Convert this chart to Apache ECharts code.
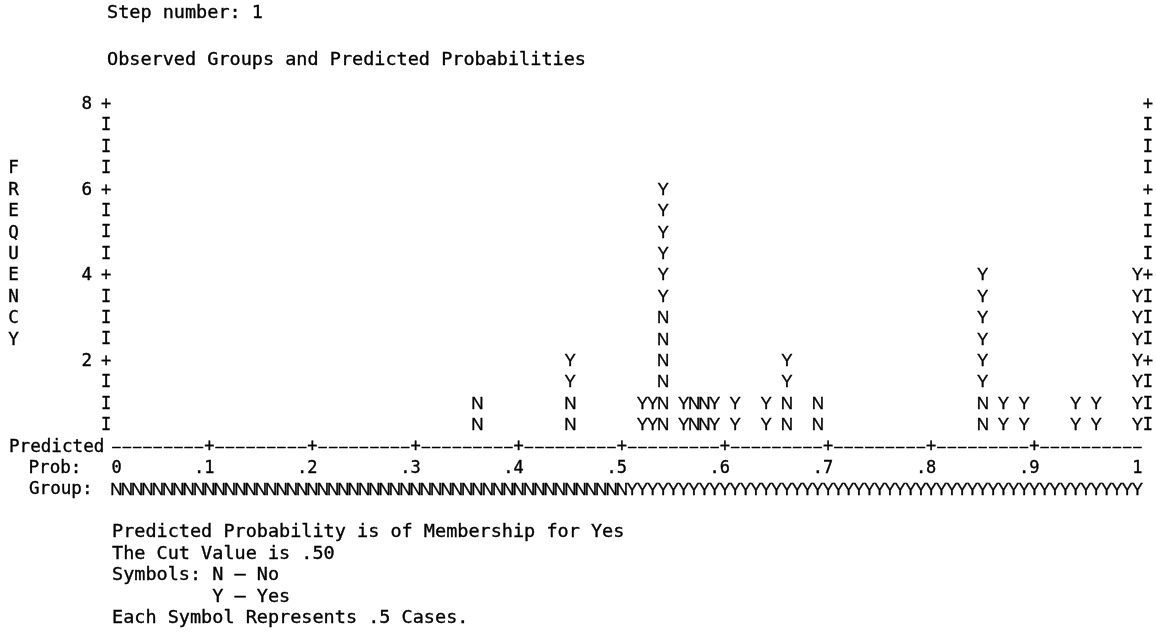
<!DOCTYPE html>
<html><head><meta charset="utf-8">
<script src="https://cdn.jsdelivr.net/npm/echarts@6/dist/echarts.min.js"></script>
<style>html,body{margin:0;padding:0;background:#fff}#c{width:1156px;height:639px}</style>
</head><body><div id="c"></div>
<script>
// Predicted probability bins (upper bound of each 0.01-wide column) that hold cases
const probBins = [0.36,0.45,0.52,0.53,0.54,0.56,0.57,0.58,0.59,0.61,0.64,0.66,0.69,0.85,0.87,0.89,0.94,0.96,1.00];
// Observed cases per bin (each symbol = .5 case)
const casesNo  = [1,1,0,0,3,0,1,1,0,0,0,1,1,1,0,0,0,0,0];
const casesYes = [0,1,1,1,3,1,0,0,1,1,1,1,0,3,1,1,1,1,4];
const probTicks = [0.01,0.1,0.2,0.3,0.4,0.5,0.6,0.7,0.8,0.9,1.0];
const probTickLabels = ['0','.1','.2','.3','.4','.5','.6','.7','.8','.9','1'];
const freqTicks = [2,4,6,8];
const cutValue = 0.5;
const casesPerSymbol = 0.5;

const MONO = '"DejaVu Sans Mono", monospace';
const SANS = '"Liberation Sans", Arial, sans-serif';
const FS = 17;      // chart rows
const FS_T = 18.5;  // titles / legend text
const SW = 0.35;    // slight stroke to darken glyphs

const nPts = [], yPts = [];
probBins.forEach((p, i) => {
  let row = 0;
  for (let j = 0; j < casesNo[i] / casesPerSymbol; j++) { row++; nPts.push([p, row * casesPerSymbol]); }
  for (let j = 0; j < casesYes[i] / casesPerSymbol; j++) { row++; yPts.push([p, row * casesPerSymbol]); }
});

// frame / axis decoration drawn in axis coordinates
const decor = [];
for (let r = 1; r <= 16; r++) {
  const f = r * casesPerSymbol;
  const ch = (f % 2 === 0) ? '+' : 'I';
  decor.push({x: 0, y: f, ch, font: MONO, fs: FS});
  decor.push({x: 1.01, y: f, ch, font: MONO, fs: FS});
}
for (let k = 1; k <= 100; k++) {
  const plus = (k % 10 === 0 && k < 100);
  decor.push({x: k / 100, y: 0, ch: plus ? '+' : '\u2013', font: plus ? MONO : SANS, fs: plus ? FS : 15});
  decor.push({x: k / 100, y: -2 * casesPerSymbol, ch: (k / 100 <= cutValue) ? 'N' : 'Y', font: SANS, fs: FS});
}

const textItem = (ch, font, fs) => (params, api) => {
  const pt = api.coord([api.value(0), api.value(1)]);
  return {type: 'text', x: pt[0], y: pt[1],
    style: {text: ch, fontFamily: font, fontSize: fs, fill: '#000', stroke: '#000', lineWidth: SW,
      align: 'center', verticalAlign: 'middle'}};
};

const chart = echarts.init(document.getElementById('c'), null, {renderer: 'canvas'});
const TOP = 104.5, BOT = 447;
const rowH = (BOT - TOP) / 16;
const leftText = (txt, x, y, fs) => ({
  type: 'text', x: x, y: y,
  style: {text: txt, fontFamily: MONO, fontSize: fs || FS_T, fill: '#000', stroke: '#000', lineWidth: SW,
    verticalAlign: 'middle'}
});
const freqWord = 'FREQUENCY'.split('');
const graphics = [
  leftText('Step number: 1', 107, 13),
  leftText('Observed Groups and Predicted Probabilities', 107, 60),
  leftText('Predicted', 9, BOT, 17.6),
  leftText('Prob:', 28.5, BOT + rowH, 17.6),
  leftText('Group:', 29, BOT + 2 * rowH, 17.6),
  leftText('Predicted Probability is of Membership for Yes', 112, BOT + 4 * rowH),
  leftText('The Cut Value is .50', 112, BOT + 5 * rowH),
  leftText('Symbols: N \u2013 No', 112, BOT + 6 * rowH),
  leftText('         Y \u2013 Yes', 112, BOT + 7 * rowH),
  leftText('Each Symbol Represents .5 Cases.', 112, BOT + 8 * rowH)
];
freqWord.forEach((c, i) => {
  graphics.push({type: 'text', x: 13.5, y: BOT - (13 - i) * rowH,
    style: {text: c, fontFamily: MONO, fontSize: 17.6, fill: '#000', stroke: '#000', lineWidth: SW,
      align: 'center', verticalAlign: 'middle'}});
});

chart.setOption({
  animation: false,
  backgroundColor: '#fff',
  grid: {left: 106.2, right: 8.2, top: TOP, bottom: 639 - BOT, containLabel: false},
  xAxis: {
    type: 'value', min: 0, max: 1.01,
    axisLine: {show: false}, axisTick: {show: false}, splitLine: {show: false},
    axisLabel: {
      customValues: probTicks, margin: rowH, verticalAlign: 'middle', align: 'center',
      fontFamily: MONO, fontSize: FS, color: '#000', textBorderColor: '#000', textBorderWidth: SW,
      formatter: (v) => {
        let best = 0;
        probTicks.forEach((t, i) => { if (Math.abs(t - v) < Math.abs(probTicks[best] - v)) best = i; });
        const s = probTickLabels[best];
        return s.length > 1 ? s + '\u00a0' : s;
      }
    }
  },
  yAxis: {
    type: 'value', min: 0, max: 8,
    axisLine: {show: false}, axisTick: {show: false}, splitLine: {show: false},
    axisLabel: {customValues: freqTicks, margin: 14, verticalAlign: 'middle',
      fontFamily: MONO, fontSize: 17.6, color: '#000', textBorderColor: '#000', textBorderWidth: SW}
  },
  graphic: graphics,
  series: [
    {type: 'custom', name: 'No', data: nPts, encode: {x: 0, y: 1}, clip: false, silent: true,
     renderItem: textItem('N', SANS, FS)},
    {type: 'custom', name: 'Yes', data: yPts, encode: {x: 0, y: 1}, clip: false, silent: true,
     renderItem: textItem('Y', SANS, FS)},
    {type: 'custom', name: 'frame', silent: true, clip: false,
     data: decor.map(d => [d.x, d.y]), encode: {x: 0, y: 1},
     renderItem: (params, api) => {
       const d = decor[params.dataIndex];
       const pt = api.coord([d.x, d.y]);
       return {type: 'text', x: pt[0], y: pt[1],
         style: {text: d.ch, fontFamily: d.font, fontSize: d.fs, fill: '#000', stroke: '#000', lineWidth: SW,
           align: 'center', verticalAlign: 'middle'}};
     }}
  ]
});
</script></body></html>
